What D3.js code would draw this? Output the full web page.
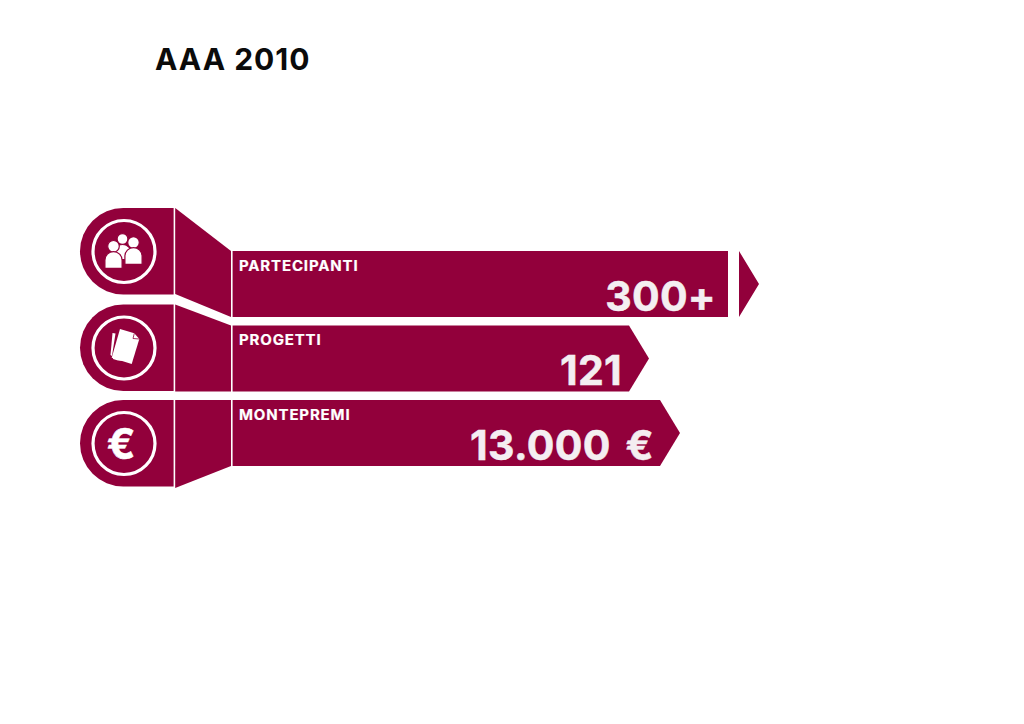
<!DOCTYPE html>
<html lang="en">
<head>
<meta charset="UTF-8">
<title>AAA 2010</title>
<script src="https://d3js.org/d3.v7.min.js"></script>
<style>
    body { margin: 0; background: #fff; }
    text { font-family: Inter, "Liberation Sans", sans-serif; font-weight: 700; }
</style>
</head>
<body>
<script>
    // Data
    const title = "AAA 2010";
    const categories = ["PARTECIPANTI", "PROGETTI", "MONTEPREMI"];
    const valueLabels = ["300+", "121", "13.000 €"];
    const barLengths = [527, 417, 448];   // arrow length, not proportional to the values
    const brokenBar = ["PARTECIPANTI"];

    const width = 1024, height = 724;
    const wine = "#92003b";

    const svg = d3.select("body").append("svg")
        .attr("width", width)
        .attr("height", height)
        .style("display", "block");

    const yScale = d3.scalePoint().domain(categories).range([251, 400]);
    const xScale = d3.scaleLinear().domain([0, 527]).range([232, 759]);

    const barH = 66, tipW = 20;
    const headL = 80, headR = 173.6, neckL = 175.2, neckR = 231;

    // how far the round head and the neck stick out above/below the bar
    const headTop = [-43, -21, 0];
    const neckBottom = [-23, 0, 22];
    const valueRight = [716, 622, 654];

    const rows = categories.map((c, i) => ({
        name: c, label: valueLabels[i], len: barLengths[i],
        top: yScale(c), headTop: yScale(c) + headTop[i], neckBottom: yScale(c) + barH + neckBottom[i]
    }));

    svg.append("text")
        .attr("x", 155).attr("y", 70)
        .style("font-size", "30px")
        .style("letter-spacing", "1px")
        .attr("fill", "#0b0b0b")
        .text(title);

    const row = svg.selectAll(".row").data(rows).enter().append("g").attr("class", "row");

    // round head
    row.append("path")
        .attr("fill", wine)
        .attr("d", d => {
            const h = 86.5, r = h / 2, p = d3.path();
            p.moveTo(headR, d.headTop);
            p.lineTo(headL + r, d.headTop);
            p.arc(headL + r, d.headTop + r, r, -Math.PI / 2, Math.PI / 2, true);
            p.lineTo(headR, d.headTop + h);
            p.closePath();
            return p.toString();
        });

    // neck joining head and bar
    row.append("path")
        .attr("fill", wine)
        .attr("d", d => d3.line()([[neckL, d.headTop], [neckR, d.top], [neckR, d.top + barH], [neckL, d.neckBottom]]) + "Z");

    // arrow bar
    row.append("path")
        .attr("fill", wine)
        .attr("d", d => {
            const end = xScale(d.len), b = d.top + barH, mid = d.top + barH / 2;
            if (brokenBar.includes(d.name)) {
                return d3.line()([[232.6, d.top], [728, d.top], [728, b], [232.6, b]]) + "Z" +
                    d3.line()([[end - tipW, d.top], [end, mid], [end - tipW, b]]) + "Z";
            }
            return d3.line()([[232.6, d.top], [end - tipW, d.top], [end, mid], [end - tipW, b], [232.6, b]]) + "Z";
        });

    row.append("text")
        .attr("x", 239)
        .attr("y", d => d.top + 19.5)
        .attr("fill", "#fff")
        .style("font-size", "15px")
        .style("letter-spacing", "0.85px")
        .attr("stroke", "#fff")
        .attr("stroke-width", 0.2)
        .text(d => d.name);

    row.append("text")
        .attr("x", (d, i) => valueRight[i])
        .attr("y", d => d.top + 59.8)
        .attr("text-anchor", "end")
        .attr("fill", "#f4eef1")
        .attr("stroke", "#f4eef1")
        .attr("stroke-width", 0.5)
        .style("font-size", "41px")
        .style("letter-spacing", "0.3px")
        .style("word-spacing", "5px")
        .text(d => d.label);

    // icon circles
    const icon = row.append("g")
        .attr("transform", d => `translate(124,${d.headTop + 43.5})`);

    icon.append("circle")
        .attr("r", 31)
        .attr("fill", "none")
        .attr("stroke", "#fff")
        .attr("stroke-width", 3.2);

    // people, each one outlined so it stands off the one behind
    const people = d3.select(icon.nodes()[0]);
    const person = (g, cx, headY, r, w, top, bottom) => {
        g.append("circle").attr("cx", cx).attr("cy", headY).attr("r", r)
            .attr("fill", "#fff").attr("stroke", wine).attr("stroke-width", 1.2);
        g.append("path").attr("fill", "#fff").attr("stroke", wine).attr("stroke-width", 1.2)
            .attr("d", `M${cx - w},${bottom}V${top + w}A${w},${w} 0 0 1 ${cx + w},${top + w}V${bottom}Z`);
    };
    person(people, -1.5, -12.5, 5.4, 9, -7, 8);
    person(people, 9.5, -9, 5.8, 8.6, -3.9, 12.8);
    person(people, -10.5, -5.2, 5.8, 8.6, 0.1, 16.8);

    // papers
    const papers = d3.select(icon.nodes()[1]);
    papers.append("path").attr("fill", "#fff").attr("d", "M-11.5,-15L-8.5,-14.5L-12,8L-13.5,7Z");
    papers.append("path").attr("fill", "#fff").attr("d", "M-11,9L0,13L-6,12.5L-11,11Z");
    papers.append("path").attr("fill", "#fff").attr("d", "M-4,-19L10.3,-14.7L15.3,-9L7.7,16L-12.3,9.7Z");
    papers.append("path").attr("fill", "none").attr("stroke", wine).attr("stroke-width", 0.8)
        .attr("d", "M10.3,-14.7L9,-9.5L15.3,-9");

    // euro
    d3.select(icon.nodes()[2]).append("text")
        .attr("x", -3).attr("y", 15)
        .attr("text-anchor", "middle")
        .attr("fill", "#fff")
        .attr("stroke", "#fff")
        .attr("stroke-width", 0.5)
        .style("font-size", "42px")
        .text("€");
</script>
</body>
</html>
